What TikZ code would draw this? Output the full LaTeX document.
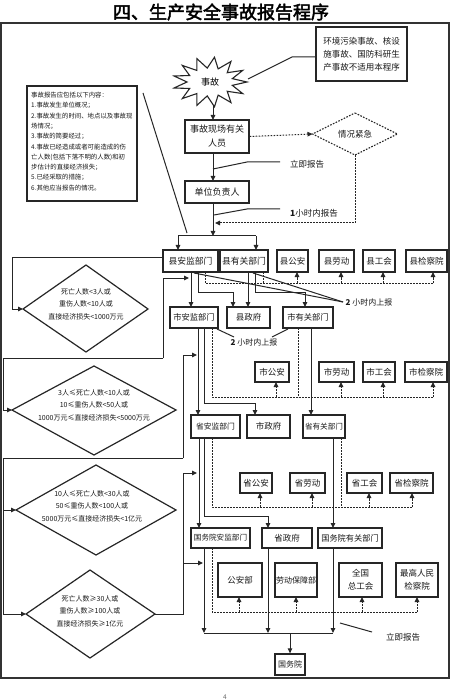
\documentclass[tikz,border=0pt]{standalone}
\usepackage{fontspec}
\setmainfont{Noto Sans CJK SC}
\newfontfamily\titlefont{Noto Sans CJK SC}[FakeBold=2.5]
\usetikzlibrary{arrows.meta}
\begin{document}
\begin{tikzpicture}[x=1pt,y=-1pt,
  ln/.style={line width=1pt, draw=black!85},
  arr/.style={ln, -{Triangle[length=5pt,width=4.5pt]}},
  dot/.style={line width=1pt, draw=black!85, dash pattern=on 1.6pt off 1.4pt},
  darr/.style={dot, -{Triangle[length=5pt,width=4.5pt]}},
  box/.style={draw=black!85, line width=1.3pt, inner sep=0pt, align=center, text=black!90, font=\fontsize{8.5}{11}\selectfont},
  lbl/.style={inner sep=0pt, text=black!90, font=\fontsize{8}{10}\selectfont},
  dtext/.style={inner sep=0pt, align=center, text=black!90, font=\fontsize{7}{12.5}\selectfont},
  dia/.style={draw=black!85, line width=1.2pt},
]
\useasboundingbox (0,0) rectangle (450,700);
\fill[white] (0,0) rectangle (450,700);

% title and frame
\node[inner sep=0pt, font=\titlefont\fontsize{18}{20}\selectfont] (title) at (221,12) {四、生产安全事故报告程序};
\draw[draw=black!80, line width=1.3pt] (1,23) rectangle (449,678);
\node[inner sep=0pt, text=black!60, font=\fontsize{6.5}{8}\selectfont] (pnum) at (225,697) {4};

% top part
\node[box, minimum width=91pt, minimum height=54pt, font=\fontsize{8.5}{13}\selectfont] (env) at (361.5,54) {环境污染事故、核设\\施事故、国防科研生\\产事故不适用本程序};
\draw[draw=black!85, line width=1.1pt, fill=white] (247,82) \foreach \i in {1,...,25}{ -- ({210+ifthenelse(mod(\i,2)==0,37,23)*cos(\i*360/26)},{82+ifthenelse(mod(\i,2)==0,25,14)*sin(\i*360/26)}) } -- cycle;
\node[inner sep=0pt, font=\fontsize{9}{11}\selectfont] (burst) at (210,82) {事故};
\coordinate (burstR) at (248,79);
\coordinate (burstB) at (213,106);
\draw[ln] (burstR) -- (292,57) -- (env.west |- 0,57);

\node[draw=black!85, line width=1.3pt, minimum width=110pt, minimum height=115pt, inner sep=0pt] (notes) at (82,143.5) {};
\node[anchor=west, inner sep=0pt, align=left, text=black!90, font=\fontsize{6.4}{10.3}\selectfont] (notestext) at (31,141.5) {事故报告应包括以下内容：\\1.事故发生单位概况；\\2.事故发生的时间、地点以及事故现\\场情况；\\3.事故的简要经过；\\4.事故已经造成或者可能造成的伤\\亡人数(包括下落不明的人数)和初\\步估计的直接经济损失；\\5.已经采取的措施；\\6.其他应当报告的情况。};
\coordinate (notesTip) at (187,233);
\draw[ln] (143,93) -- (notesTip);

\node[box, minimum width=64pt, minimum height=33pt, font=\fontsize{9}{14}\selectfont] (xc) at (217,136.5) {事故现场有关\\人员};
\node[box, minimum width=64pt, minimum height=22pt, font=\fontsize{9}{11}\selectfont] (dw) at (217,192) {单位负责人};
\draw[arr] (burstB) -- (213,120);
\draw[arr] (213,153) -- (213,181);
\draw[arr] (213,203) -- (213,236);
\draw[ln] (178,236) -- (256,236);

% emergency diamond
\draw[dot, line width=1.1pt] (355,113) -- (397.5,134) -- (355,155) -- (312.5,134) -- cycle;
\node[lbl, font=\fontsize{8.5}{10}\selectfont] (urgent) at (355,134) {情况紧急};
\draw[darr] (xc.east) -- (312.5,134);
\draw[darr] (355,155) -- (355,223) -- (215,223);

\draw[ln] (213,169) -- (247,162) -- (280,162);
\node[lbl, font=\fontsize{8.5}{10}\selectfont] (l1) at (307,164) {立即报告};
\draw[ln] (214,215) -- (247,209) -- (280,209);
\node[lbl, font=\fontsize{8.5}{10}\selectfont] (l2) at (314,213) {\textbf{1}小时内报告};

% county row
\node[box, minimum width=55pt, minimum height=22pt, font=\fontsize{8.8}{11}\selectfont] (xaj) at (190.5,261) {县安监部门};
\node[box, minimum width=48pt, minimum height=22pt, font=\fontsize{8.8}{11}\selectfont] (xyg) at (244,261) {县有关部门};
\node[box, minimum width=31pt, minimum height=22pt] (xga) at (292.5,261) {县公安};
\node[box, minimum width=35pt, minimum height=22pt] (xld) at (336.5,261) {县劳动};
\node[box, minimum width=32pt, minimum height=22pt] (xgh) at (379,261) {县工会};
\node[box, minimum width=41pt, minimum height=22pt] (xjc) at (426.5,261) {县检察院};
\draw[arr] (178,236) -- (178,250);
\draw[arr] (256,236) -- (256,250);

% city row 1
\node[box, minimum width=48pt, minimum height=21pt, font=\fontsize{8.3}{11}\selectfont] (saj) at (194,317.5) {市安监部门};
\node[box, minimum width=43pt, minimum height=21pt] (xzf) at (248.5,317.5) {县政府};
\node[box, minimum width=50pt, minimum height=21pt, font=\fontsize{8.3}{11}\selectfont] (syg) at (308,317.5) {市有关部门};

\draw[arr] (191,272) -- (191,307);
\draw[arr] (198,272) -- (198,292) -- (233,292) -- (233,307);
\draw[arr] (248,272) -- (248,307);
\draw[arr] (255,272) -- (255,292) -- (305,292) -- (305,307);
\draw[dot] (205,272) -- (205,283) -- (433,283);
\draw[dot] (263,272) -- (263,283);
\foreach \x in {297,341,383,433} \draw[darr] (\x,283) -- (\x,272);
\draw[ln] (194,273) -- (343,302);
\draw[ln] (253,273) -- (343,302);
\node[lbl] (r1) at (369,302) {\textbf{2} 小时内上报};

% diamond 1
\draw[dia] (86,265) -- (148,309) -- (86,352) -- (23,309) -- cycle;
\node[dtext] (d1) at (86,304) {死亡人数<3人或\\重伤人数<10人或\\直接经济损失<1000万元};
\draw[arr] (xaj.west |- 0,257) -- (12,257) -- (12,309) -- (23,309);

% line B
\draw[arr] (163,358) -- (163,278) -- (189,278);
\draw[arr] (163,358) -- (3,358) -- (3,410) -- (12,410);

% city row 2
\node[box, minimum width=34pt, minimum height=20pt] (sga) at (272,372) {市公安};
\node[box, minimum width=35pt, minimum height=20pt] (sld) at (336.5,372) {市劳动};
\node[box, minimum width=32pt, minimum height=20pt] (sgh) at (379,372) {市工会};
\node[box, minimum width=42pt, minimum height=20pt] (sjc) at (426,372) {市检察院};
\draw[dot] (212,328) -- (212,397) -- (433,397);
\draw[dot] (298,328) -- (298,397);
\foreach \x in {276,341,383,433} \draw[darr] (\x,397) -- (\x,382);
\draw[ln] (217,329) -- (234,337);
\draw[ln] (288,329) -- (272,337);
\node[lbl] (r2) at (254,342) {\textbf{2} 小时内上报};

% diamond 2
\draw[dia] (94,366) -- (176,410) -- (94,455) -- (12,410) -- cycle;
\node[dtext] (d2) at (94,405) {3人≤死亡人数<10人或\\10≤重伤人数<50人或\\1000万元≤直接经济损失<5000万元};

% province row 1
\node[box, minimum width=49pt, minimum height=23pt, font=\fontsize{7.8}{11}\selectfont] (paj) at (215.5,426.5) {省安监部门};
\node[box, minimum width=43pt, minimum height=23pt] (szf) at (268.5,426.5) {市政府};
\node[box, minimum width=42pt, minimum height=23pt, font=\fontsize{7.6}{11}\selectfont] (pyg) at (324,426.5) {省有关部门};
\draw[arr] (198,328) -- (198,415);
\draw[arr] (204,328) -- (204,403) -- (255,403) -- (255,415);
\draw[arr] (311,328) -- (311,415);

% line C
\draw[arr] (183,458) -- (183,355) -- (197,355);
\draw[ln] (183,458) -- (3,458) -- (3,510);
\draw[arr] (3,510) -- (16,510);

% province row 2
\node[box, minimum width=32pt, minimum height=20pt] (pga) at (256,483) {省公安};
\node[box, minimum width=35pt, minimum height=20pt] (pld) at (307.5,483) {省劳动};
\node[box, minimum width=35pt, minimum height=20pt] (pgh) at (364.5,483) {省工会};
\node[box, minimum width=43pt, minimum height=20pt] (pjc) at (411.5,483) {省检察院};
\draw[dot] (212,438) -- (212,507) -- (412,507);
\draw[dot] (341,438) -- (341,507);
\foreach \x in {260,312,369,412} \draw[darr] (\x,507) -- (\x,493);

% diamond 3
\draw[dia] (96,465) -- (176,510) -- (96,555) -- (16,510) -- cycle;
\node[dtext] (d3) at (92,506) {10人≤死亡人数<30人或\\50≤重伤人数<100人或\\5000万元≤直接经济损失<1亿元};

% state row
\node[box, minimum width=59pt, minimum height=20pt, font=\fontsize{7.6}{11}\selectfont] (gaj) at (220.5,538) {国务院安监部门};
\node[box, minimum width=50pt, minimum height=20pt] (pzf) at (287,538) {省政府};
\node[box, minimum width=64pt, minimum height=20pt, font=\fontsize{8.2}{11}\selectfont] (gyg) at (350,538) {国务院有关部门};
\draw[arr] (199,438) -- (199,528);
\draw[arr] (204,438) -- (204,516) -- (268,516) -- (268,528);
\draw[arr] (333,438) -- (333,528);

% line D and diamond 4
\draw[dia] (90,570) -- (155,614) -- (90,658) -- (26,614) -- cycle;
\node[dtext] (d4) at (90,611) {死亡人数≥30人或\\重伤人数≥100人或\\直接经济损失≥1亿元};
\draw[ln] (3,510) -- (3,614);
\draw[arr] (3,614) -- (26,614);
\draw[ln] (155,614) -- (183,614) -- (183,563);
\draw[arr] (183,563) -- (183,473) -- (197,473);
\draw[arr] (183,563) -- (203,563);

% ministries
\node[box, minimum width=44pt, minimum height=34pt] (gab) at (240,580) {公安部};
\node[box, minimum width=42pt, minimum height=34pt, font=\fontsize{8}{11}\selectfont] (ldb) at (296,580) {劳动保障部};
\node[box, minimum width=43pt, minimum height=34pt, font=\fontsize{8.5}{13}\selectfont] (qgh) at (360.5,580) {全国\\总工会};
\node[box, minimum width=42pt, minimum height=34pt, font=\fontsize{8.5}{13}\selectfont] (zgj) at (417,580) {最高人民\\检察院};
\draw[dot] (212,548) -- (212,612) -- (417,612);
\foreach \x in {239,296,362,417} \draw[darr] (\x,612) -- (\x,597);

\draw[arr] (204,548) -- (204,633);
\draw[arr] (268,548) -- (268,633);
\draw[arr] (333,548) -- (333,633);
\draw[ln] (204,633) -- (333,633);
\node[box, minimum width=30pt, minimum height=21pt, font=\fontsize{8}{11}\selectfont] (gwy) at (290,664.5) {国务院};
\draw[arr] (290,633) -- (gwy.north);
\draw[ln] (340,623) -- (372,632);
\node[lbl, font=\fontsize{8.5}{10}\selectfont] (l3) at (403,637) {立即报告};
\end{tikzpicture}
\end{document}
